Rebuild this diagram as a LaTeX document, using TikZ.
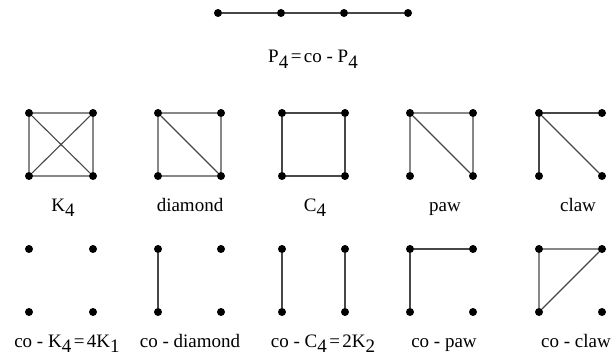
\documentclass[tikz,border=0pt]{standalone}
\usepackage{fontspec}
\setmainfont{Liberation Serif}
\newcommand{\lowsub}[1]{\raisebox{-0.3em}{#1}}
\newcommand{\eqs}{\kern2.5pt=\kern2.5pt}
\tikzset{
  vtx/.style={circle,fill=black,inner sep=0pt,minimum size=8pt},
  edg/.style={line width=1.1pt,draw=black!72},
  lbl/.style={anchor=base,inner sep=0pt,font=\fontsize{19}{22}\selectfont},
}
\begin{document}
\begin{tikzpicture}[x=1pt,y=-1pt]
\useasboundingbox (0,0) rectangle (612,358);
% P4
\node[vtx] (p1) at (218,13) {};
\node[vtx] (p2) at (281,13) {};
\node[vtx] (p3) at (344,13) {};
\node[vtx] (p4) at (408,13) {};
\draw[edg] (p1) -- (p2) -- (p3) -- (p4);
\node[lbl] (lp) at (313,63) {P\lowsub{4}\eqs co - P\lowsub{4}};
% K4
\node[vtx] (k1) at (29,113) {};
\node[vtx] (k2) at (93,113) {};
\node[vtx] (k3) at (29,176) {};
\node[vtx] (k4) at (93,176) {};
\draw[edg] (k1) -- (k2) -- (k4) -- (k3) -- (k1) -- (k4);
\draw[edg] (k2) -- (k3);
\node[lbl] (lk) at (63,211) {K\lowsub{4}};
% diamond
\node[vtx] (d1) at (158,113) {};
\node[vtx] (d2) at (221,113) {};
\node[vtx] (d3) at (158,176) {};
\node[vtx] (d4) at (221,176) {};
\draw[edg] (d1) -- (d2) -- (d4) -- (d3) -- (d1) -- (d4);
\node[lbl] (ld) at (190,211) {diamond};
% C4
\node[vtx] (c1) at (282,113) {};
\node[vtx] (c2) at (345,113) {};
\node[vtx] (c3) at (282,176) {};
\node[vtx] (c4) at (345,176) {};
\draw[edg] (c1) -- (c2) -- (c4) -- (c3) -- (c1);
\node[lbl] (lc) at (315,211) {C\lowsub{4}};
% paw
\node[vtx] (w1) at (410,113) {};
\node[vtx] (w2) at (473,113) {};
\node[vtx] (w3) at (410,176) {};
\node[vtx] (w4) at (473,176) {};
\draw[edg] (w3) -- (w1) -- (w2) -- (w4) -- (w1);
\node[lbl] (lw) at (445,211) {paw};
% claw
\node[vtx] (a1) at (539,113) {};
\node[vtx] (a2) at (602,113) {};
\node[vtx] (a3) at (539,176) {};
\node[vtx] (a4) at (602,176) {};
\draw[edg] (a2) -- (a1) -- (a3);
\draw[edg] (a1) -- (a4);
\node[lbl] (la) at (578,211) {claw};
% co-K4
\node[vtx] (ek1) at (29,249) {};
\node[vtx] (ek2) at (93,249) {};
\node[vtx] (ek3) at (29,312) {};
\node[vtx] (ek4) at (93,312) {};
\node[lbl] (lek) at (67,347) {co - K\lowsub{4}\eqs 4K\lowsub{1}};
% co-diamond
\node[vtx] (ed1) at (158,249) {};
\node[vtx] (ed2) at (221,249) {};
\node[vtx] (ed3) at (158,312) {};
\node[vtx] (ed4) at (221,312) {};
\draw[edg] (ed1) -- (ed3);
\node[lbl] (led) at (190,347) {co - diamond};
% co-C4
\node[vtx] (ec1) at (282,249) {};
\node[vtx] (ec2) at (345,249) {};
\node[vtx] (ec3) at (282,312) {};
\node[vtx] (ec4) at (345,312) {};
\draw[edg] (ec1) -- (ec3);
\draw[edg] (ec2) -- (ec4);
\node[lbl] (lec) at (323,347) {co - C\lowsub{4}\eqs 2K\lowsub{2}};
% co-paw
\node[vtx] (ew1) at (410,249) {};
\node[vtx] (ew2) at (473,249) {};
\node[vtx] (ew3) at (410,312) {};
\node[vtx] (ew4) at (473,312) {};
\draw[edg] (ew3) -- (ew1) -- (ew2);
\node[lbl] (lew) at (444,347) {co - paw};
% co-claw
\node[vtx] (ea1) at (539,249) {};
\node[vtx] (ea2) at (602,249) {};
\node[vtx] (ea3) at (539,312) {};
\node[vtx] (ea4) at (602,312) {};
\draw[edg] (ea1) -- (ea2) -- (ea3) -- (ea1);
\node[lbl,anchor=base west] (lea) at (541,347) {co - claw};
\end{tikzpicture}
\end{document}
